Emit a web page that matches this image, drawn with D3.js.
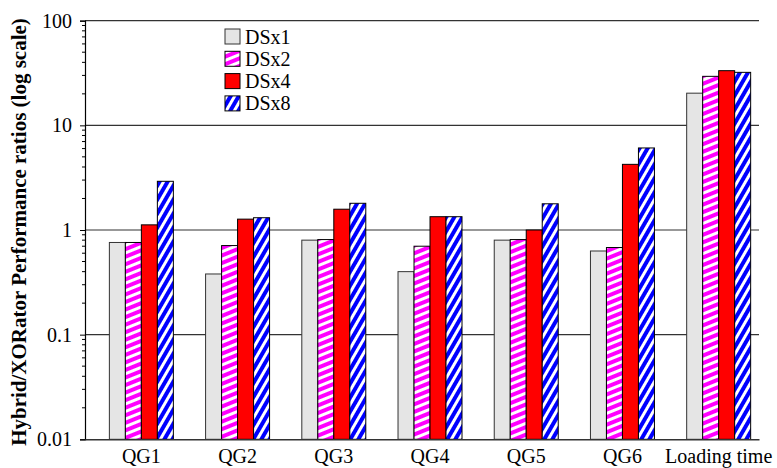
<!DOCTYPE html>
<html><head><meta charset="utf-8">
<script src="https://cdn.jsdelivr.net/npm/d3@7/dist/d3.min.js"></script>
<style>body{margin:0;background:#fff}svg{display:block}
svg text{font-family:'Liberation Serif','Times New Roman',serif}</style>
</head><body>
<svg id="chart" width="777" height="468"></svg>
<script>
const categories = ["QG1","QG2","QG3","QG4","QG5","QG6","Loading time"];
const seriesNames = ["DSx1","DSx2","DSx4","DSx8"];
const dsx1 = [0.76, 0.38, 0.80, 0.40, 0.80, 0.63, 20.3];
const dsx2 = [0.76, 0.71, 0.81, 0.70, 0.81, 0.68, 29.4];
const dsx4 = [1.12, 1.27, 1.58, 1.34, 1.00, 4.24, 33.3];
const dsx8 = [2.92, 1.31, 1.80, 1.34, 1.78, 6.08, 32.1];
const yTicks = [0.01, 0.1, 1, 10, 100];
const yTickLabels = ["0.01","0.1","1","10","100"];
const seriesValues = [dsx1, dsx2, dsx4, dsx8];

const svg = d3.select("#chart");
const L = 85, R = 759, T = 20.7, B = 439.3;

const defs = svg.append("defs");
function stripes(id, color, angle, period, white) {
  const p = defs.append("pattern").attr("id", id)
    .attr("patternUnits", "userSpaceOnUse")
    .attr("width", 20).attr("height", period)
    .attr("patternTransform", `rotate(${angle})`);
  p.append("rect").attr("width", 20).attr("height", period).attr("fill", color);
  p.append("rect").attr("y", 0).attr("width", 20).attr("height", white).attr("fill", "#fff");
}
stripes("pMag", "#ff00ff", -22, 7, 3);
stripes("pBlue", "#0000ff", -60, 7, 3);
const fills = ["#e5e5e5", "url(#pMag)", "#ff0000", "url(#pBlue)"];
const strokes = ["#333", "#000", "#000", "#000"];

const y = d3.scaleLog().domain([0.01, 100]).range([B, T]);
const x = d3.scaleBand().domain(categories).range([L, R])
  .paddingInner(0.335).paddingOuter(0.17).align(0.745);
const xs = d3.scaleBand().domain(seriesNames).range([0, x.bandwidth()]);

// gridlines
svg.append("g").selectAll("line").data(yTicks.slice(1)).join("line")
  .attr("x1", L).attr("x2", R).attr("y1", d => y(d)).attr("y2", d => y(d))
  .attr("stroke", "#333").attr("stroke-width", 1.2);

// bars
const g = svg.append("g");
categories.forEach((c, i) => {
  seriesNames.forEach((s, j) => {
    const v = seriesValues[j][i];
    g.append("rect")
      .attr("x", x(c) + xs(s)).attr("width", xs.bandwidth())
      .attr("y", y(v)).attr("height", y(0.01) - y(v))
      .attr("fill", fills[j]).attr("stroke", strokes[j]).attr("stroke-width", 1);
  });
});

// y axis
const minor = [];
for (let e = -2; e < 2; e++) for (let k = 2; k <= 9; k++) minor.push(k * Math.pow(10, e));
const yAxis = d3.axisLeft(y).tickValues(yTicks).tickFormat((d, i) => yTickLabels[i]).tickSize(5).tickPadding(8);
const ya = svg.append("g").attr("transform", `translate(${L},0)`).call(yAxis);
ya.attr("font-family", null).attr("font-size", null);
ya.select(".domain").attr("stroke", "#000").attr("stroke-width", 1.2);
ya.selectAll(".tick line").attr("stroke", "#000");
ya.selectAll("text").style("font-size", "20px").attr("fill", "#000");
svg.append("g").selectAll("line").data(minor).join("line")
  .attr("x1", L - 3).attr("x2", L).attr("y1", d => y(d)).attr("y2", d => y(d))
  .attr("stroke", "#000");

// x axis
const xAxis = d3.axisBottom(x).tickSize(0).tickPadding(10);
const xa = svg.append("g").attr("transform", `translate(0,${B})`).call(xAxis);
xa.attr("font-family", null).attr("font-size", null);
xa.select(".domain").attr("stroke", "#333").attr("stroke-width", 1.5);
xa.selectAll("text").style("font-size", "20px").attr("fill", "#000");

// y label
svg.append("text")
  .attr("transform", `translate(26,${(T + B) / 2 + 2}) rotate(-90)`)
  .attr("text-anchor", "middle")
  .style("font-weight", "bold").style("font-size", "21px")
  .text("Hybrid/XORator Performance ratios (log scale)");

// legend
const lg = svg.append("g").attr("transform", "translate(225,29)");
seriesNames.forEach((s, j) => {
  const row = lg.append("g").attr("transform", `translate(0,${j * 22.3})`);
  row.append("rect").attr("width", 15).attr("height", 15)
    .attr("fill", fills[j]).attr("stroke", strokes[j]).attr("stroke-width", 1);
  row.append("text").attr("x", 20).attr("y", 14.5)
    .style("font-size", "20px").text(s);
});
</script>
</body></html>
